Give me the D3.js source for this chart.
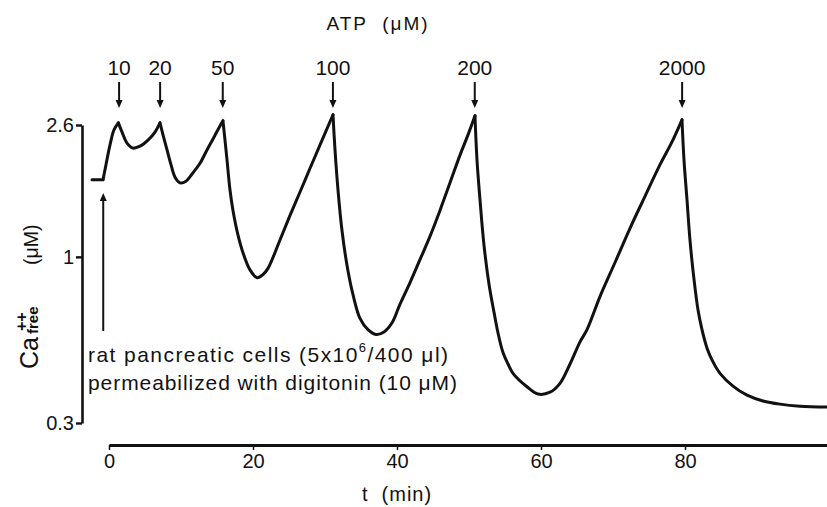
<!DOCTYPE html>
<html><head><meta charset="utf-8">
<script src="https://cdn.jsdelivr.net/npm/d3@7"></script>
<style>
body{margin:0;background:#fff}
svg{display:block}
text{font-family:"Liberation Sans",Arial,Helvetica,sans-serif;fill:#111}
</style>
</head><body>
<svg id="chart" width="827" height="507"></svg>
<script>
// ---- data ----
const timeMin = [-2.36,-0.83,-0.42,0.14,0.69,1.3,
  1.81,2.5,3.33,4.31,5.42,6.39,7.08,
  7.5,8.06,8.61,9.17,9.86,10.69,11.67,12.64,13.61,14.58,15.28,15.83,
  16.11,16.39,16.81,17.22,17.92,18.61,19.58,20.56,21.39,22.08,23.75,25.14,26.53,27.92,29.31,31.11,
  31.39,31.81,32.36,33.06,33.89,34.86,35.97,37.08,38.19,39.31,40.42,41.81,43.19,44.58,45.97,47.36,48.75,49.86,50.83,
  51.11,51.53,52.08,52.78,53.47,54.03,54.72,55.42,56.11,58.06,59.58,61.25,62.64,64.03,65.42,66.39,68.19,70.28,72.36,74.44,76.53,78.19,79.58,
  79.86,80.28,80.69,81.25,81.81,82.36,83.06,83.89,84.86,86.67,88.61,90.83,93.19,95.97,99.72];
const caFree = [1.75,1.75,1.95,2.25,2.51,2.64,
  2.47,2.28,2.20,2.23,2.33,2.47,2.64,
  2.42,2.17,1.95,1.78,1.71,1.73,1.84,1.97,2.17,2.38,2.55,2.68,
  2.33,2.02,1.62,1.40,1.17,1.03,0.91,0.86,0.88,0.92,1.13,1.35,1.60,1.90,2.25,2.80,
  2.17,1.62,1.21,0.94,0.76,0.64,0.59,0.57,0.58,0.62,0.71,0.83,0.98,1.16,1.40,1.71,2.09,2.42,2.78,
  2.02,1.51,1.09,0.82,0.67,0.576,0.50,0.46,0.43,0.39,0.37,0.375,0.40,0.46,0.54,0.59,0.75,0.96,1.23,1.55,1.95,2.30,2.70,
  2.02,1.51,1.13,0.85,0.68,0.59,0.516,0.467,0.43,0.392,0.367,0.352,0.344,0.339,0.337];
const atpDoses = ["10","20","50","100","200","2000"];
const atpTimes = [1.4,7.1,15.8,31.1,50.8,79.6];
const digitoninTime = -0.8;
const xTicks = [0,20,40,60,80];
const yTicks = [0.3,1,2.6];
const yTickLabels = ["0.3","1","2.6"];

// ---- scales ----
const svg = d3.select("#chart");
const x = d3.scaleLinear().domain([0,100]).range([109,829]);
const y = d3.scaleLog().domain([0.3,2.6]).range([423,125]);

const ink = "#111";
const ff = "Liberation Sans, Arial, sans-serif";

// y axis
const yAxis = d3.axisLeft(y).tickValues(yTicks)
  .tickFormat((d,i)=>yTickLabels[i]).tickSize(6).tickSizeOuter(0).tickPadding(2);
const gy = svg.append("g").attr("transform","translate(82,0)").call(yAxis);
gy.select(".domain").attr("stroke",ink).attr("stroke-width",2.6);
gy.selectAll(".tick line").attr("stroke",ink).attr("stroke-width",2.4);
gy.selectAll(".tick text").attr("font-size",20).attr("fill",ink).attr("font-family",ff);

// x axis
const xAxis = d3.axisBottom(x).tickValues(xTicks).tickSize(5).tickSizeOuter(0).tickPadding(4);
const gx = svg.append("g").attr("transform","translate(0,445)").call(xAxis);
gx.select(".domain").attr("stroke",ink).attr("stroke-width",3);
gx.selectAll(".tick line").attr("stroke",ink).attr("stroke-width",1.5);
gx.selectAll(".tick text").attr("font-size",20).attr("fill",ink).attr("font-family",ff);

svg.append("text").attr("x",x(40)).attr("y",501).attr("text-anchor","middle")
  .attr("font-size",20).attr("letter-spacing",1).attr("xml:space","preserve").text("t  (min)");

// y title
const gt = svg.append("g").attr("transform","translate(38,369) rotate(-90)");
gt.append("text").attr("x",0).attr("y",0).attr("font-size",25).text("Ca");
gt.append("text").attr("x",38).attr("y",-11).attr("font-size",16).attr("font-weight","bold").text("++");
gt.append("text").attr("x",35).attr("y",0).attr("font-size",15).attr("font-weight","bold").text("free");
gt.append("text").attr("x",104).attr("y",0).attr("font-size",19.5).text("(μM)");

// curve: smooth pieces between the baseline end and the ATP-induced peaks (corners stay sharp)
const pts = timeMin.map((t,i)=>[t,caFree[i]]);
const peakIdx = atpTimes.map(t => d3.minIndex(timeMin, v => Math.abs(v - t)));
const baseEnd = d3.minIndex(timeMin, v => Math.abs(v - digitoninTime));
const cuts = [0, baseEnd, ...peakIdx, pts.length - 1];
const lineGen = d3.line().x(d=>x(d[0])).y(d=>y(d[1])).curve(d3.curveCatmullRom.alpha(0.5));
const segs = [];
for (let k = 0; k < cuts.length - 1; k++) segs.push(pts.slice(cuts[k], cuts[k+1] + 1));
svg.append("g").selectAll("path").data(segs).join("path")
  .attr("fill","none").attr("stroke",ink).attr("stroke-width",3)
  .attr("stroke-linejoin","round").attr("stroke-linecap","round")
  .attr("d", lineGen);

// ATP title
svg.append("text").attr("x",378).attr("y",30).attr("text-anchor","middle")
  .attr("font-size",19).attr("letter-spacing",2).attr("xml:space","preserve").text("ATP  (μM)");

// ATP arrows
const ga = svg.append("g");
atpTimes.forEach((t,i)=>{
  const cx = x(t);
  ga.append("text").attr("x",cx).attr("y",75).attr("text-anchor","middle")
    .attr("font-size",21).text(atpDoses[i]);
  ga.append("line").attr("x1",cx).attr("x2",cx).attr("y1",82).attr("y2",101)
    .attr("stroke",ink).attr("stroke-width",2);
  ga.append("path").attr("d",`M${cx-3.5},100 L${cx+3.5},100 L${cx},108 Z`).attr("fill",ink);
});

// digitonin arrow
const dx = x(digitoninTime);
svg.append("line").attr("x1",dx).attr("x2",dx).attr("y1",331).attr("y2",199)
  .attr("stroke",ink).attr("stroke-width",2);
svg.append("path").attr("d",`M${dx-3.5},201 L${dx+3.5},201 L${dx},193 Z`).attr("fill",ink);

// annotation
const ann = svg.append("text").attr("x",88).attr("y",362).attr("font-size",21)
  .attr("xml:space","preserve").attr("textLength",360).attr("lengthAdjust","spacing");
ann.append("tspan").text("rat pancreatic cells (5x10");
ann.append("tspan").attr("font-size",13).attr("dy",-10).text("6");
ann.append("tspan").attr("dy",10).text("/400 μl)");
svg.append("text").attr("x",88).attr("y",390).attr("font-size",21).attr("xml:space","preserve")
  .attr("textLength",369).attr("lengthAdjust","spacing")
  .text("permeabilized with digitonin (10 μM)");
</script>
</body></html>
